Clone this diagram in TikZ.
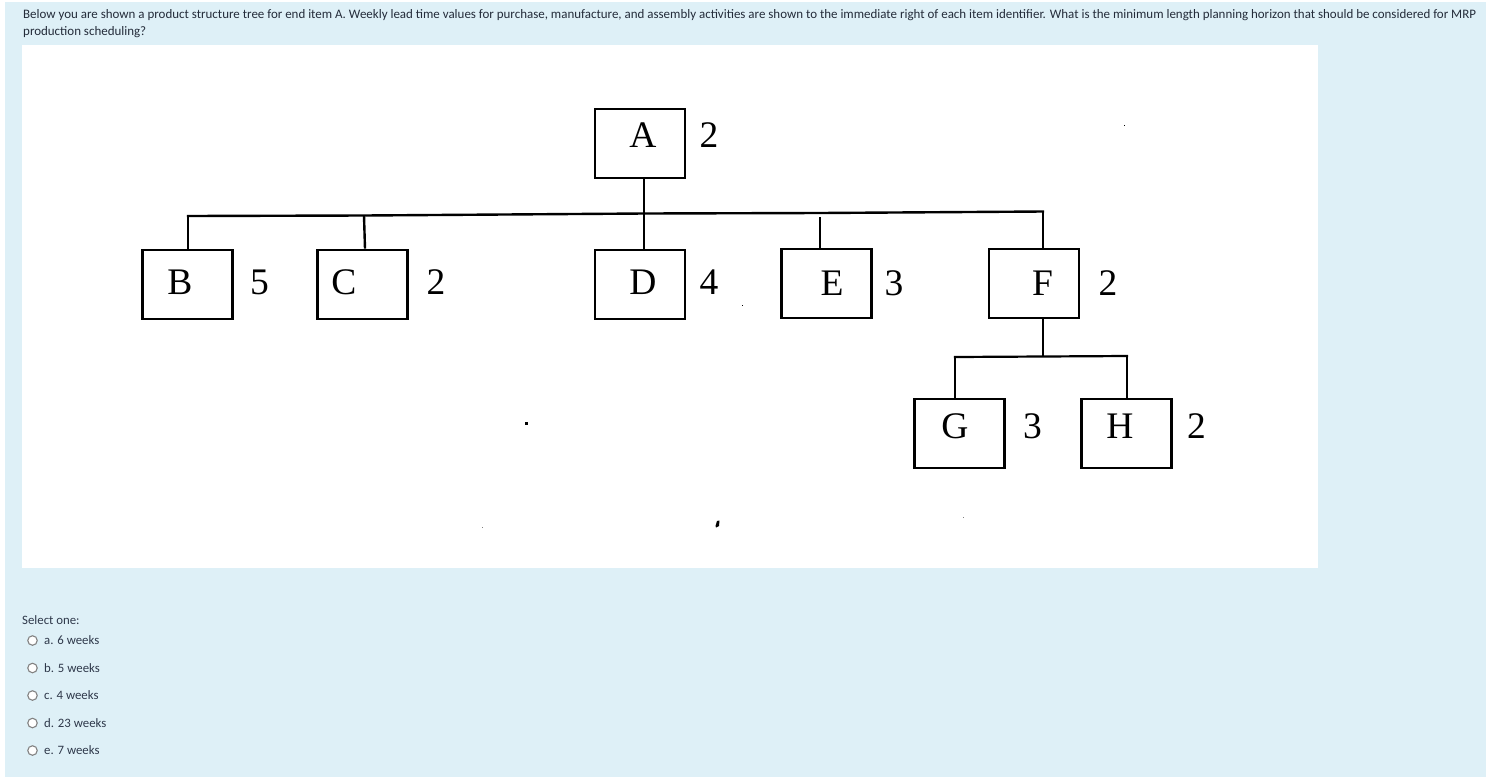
\documentclass[tikz,border=0pt]{standalone}
\usepackage{fontspec}
\setmainfont{Liberation Serif}
\newfontfamily\uifont{Carlito}
\definecolor{pagebg}{RGB}{222,240,247}
\definecolor{qtext}{RGB}{36,44,58}
\definecolor{opttext}{RGB}{46,56,74}
\definecolor{radiogray}{RGB}{130,130,130}
\newsavebox\qlinebox
\newcommand\qlinetext{Below you are shown a product structure tree for end item A. Weekly lead time values for purchase, manufacture, and assembly activities are shown to the immediate right of each item identifier. What is the minimum length planning horizon that should be considered for MRP}
\begin{document}
\sbox\qlinebox{\uifont\fontsize{12}{15}\selectfont\qlinetext}%
\pgfmathsetmacro\qsize{(1453/\wd\qlinebox)*12}%
\begin{tikzpicture}[x=1pt,y=-1pt,
  itembox/.style={draw=black,line width=2.7pt,minimum width=90pt,minimum height=69pt,inner sep=0pt},
  itemlbl/.style={anchor=base,inner sep=0pt,font=\fontsize{37.5}{40}\selectfont},
  link/.style={draw=black,line width=2.4pt},
  qline/.style={anchor=base west,inner sep=0pt,text=qtext,font=\uifont\fontsize{\qsize}{15}\selectfont},
  optline/.style={anchor=base west,inner sep=0pt,text=opttext,font=\uifont\fontsize{12.8}{15}\selectfont},
  radio/.style={circle,draw=radiogray,line width=1.1pt,fill=white,minimum size=9.5pt,inner sep=0pt},
  speck/.style={fill=black}]
\useasboundingbox (0,0) rectangle (1486,777);
\fill[white] (0,0) rectangle (1486,777);
\fill[pagebg] (5,2) rectangle (1486,777);
\fill[white] (22,45) rectangle (1318,568);

% question text
\node[qline] (q1) at (23,18.5) {\qlinetext};
\node[qline] (q2) at (23,35) {production scheduling?};

% boxes
\node[itembox] (A) at (640,143.5) {};
\node[itembox] (B) at (187.5,284.5) {};
\node[itembox] (C) at (362.5,284.5) {};
\node[itembox] (D) at (640,284.5) {};
\node[itembox] (E) at (826.5,283.5) {};
\node[itembox] (F) at (1034,283.5) {};
\node[itembox] (G) at (959.5,433.5) {};
\node[itembox] (H) at (1126.5,433.5) {};

% identifiers and lead times
\node[itemlbl] (tA) at (643,147) {A};
\node[itemlbl] (lA) at (709,147) {2};
\node[itemlbl] (tB) at (180,294) {B};
\node[itemlbl] (lB) at (259.5,294) {5};
\node[itemlbl] (tC) at (344,294) {C};
\node[itemlbl] (lC) at (436,294) {2};
\node[itemlbl] (tD) at (643,294) {D};
\node[itemlbl] (lD) at (709,294) {4};
\node[itemlbl] (tE) at (832,295) {E};
\node[itemlbl] (lE) at (894,295) {3};
\node[itemlbl] (tF) at (1042.5,295) {F};
\node[itemlbl] (lF) at (1108,295) {2};
\node[itemlbl] (tG) at (955,438) {G};
\node[itemlbl] (lG) at (1032.5,438) {3};
\node[itemlbl] (tH) at (1120,438) {H};
\node[itemlbl] (lH) at (1196.5,438) {2};

% junction points
\coordinate (jB) at (188,216);
\coordinate (jC) at (364,215.5);
\coordinate (jA) at (644,213.5);
\coordinate (jE) at (820,213);
\coordinate (jF) at (1043,211.5);
\coordinate (jFd) at (1043,356.5);
\coordinate (jG) at (955,357);
\coordinate (jH) at (1127,356);

% connectors
\draw[link] (jA |- A.south) -- (jA);
\draw[link,line cap=rect] (jB) -- (jC) -- (jA) -- (jE) -- (jF);
\draw[link] (jB) -- (jB |- B.north);
\draw[link] (jC) -- (365,249 |- C.north);
\draw[link] (jA) -- (jA |- D.north);
\draw[link] (820,217) -- (jE |- E.north);
\draw[link] (jF) -- (jF |- F.north);
\draw[link] (jF |- F.south) -- (jFd);
\draw[link,line width=2.2pt,line cap=rect] (jG) -- (jFd) -- (jH);
\draw[link] (jG) -- (jG |- G.north);
\draw[link] (jH) -- (jH |- H.north);

% scan specks
\fill[speck] (525,422) rectangle (527.5,424.5);
\fill[speck] (741.5,304.5) rectangle (743,306);
\fill[speck] (1123.5,124.5) rectangle (1125,126);
\fill[black!50] (482,526.5) rectangle (483,527.5);
\fill[black!50] (962.5,516.5) rectangle (963.5,517.5);
\fill[speck] (717,521) -- (719.5,520.5) -- (719,526) -- (716,527.5) -- (715.5,526) -- cycle;

% answers
\node[optline,anchor=base west] (sel) at (22,624) {Select one:};
\node[radio] (r1) at (32.5,640.5) {};
\node[radio] (r2) at (32.5,668) {};
\node[radio] (r3) at (32.5,695.5) {};
\node[radio] (r4) at (32.5,723) {};
\node[radio] (r5) at (32.5,750.5) {};
\node[optline] (o1) at (44,644.5) {a. 6 weeks};
\node[optline] (o2) at (44,672) {b. 5 weeks};
\node[optline] (o3) at (44,699.5) {c. 4 weeks};
\node[optline] (o4) at (44,727) {d. 23 weeks};
\node[optline] (o5) at (44,754.5) {e. 7 weeks};
\end{tikzpicture}
\end{document}
